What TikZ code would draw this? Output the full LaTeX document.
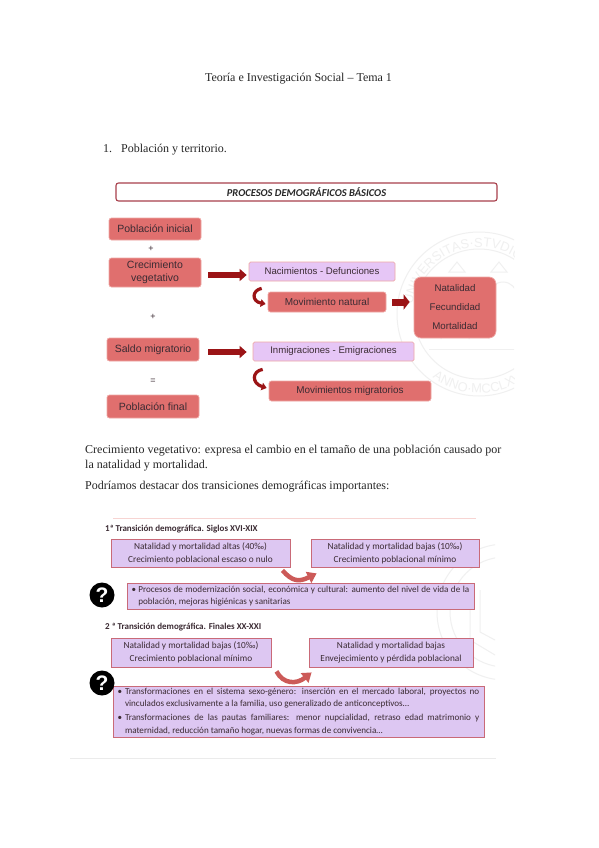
\documentclass[tikz,border=0pt]{standalone}
\usepackage{fontspec}
\setmainfont{Liberation Serif}
\newfontfamily\arialf{Liberation Sans}
\newfontfamily\calf{Carlito}
\usetikzlibrary{arrows.meta,decorations.text,calc}
\definecolor{redfill}{HTML}{E06F6E}
\definecolor{redline}{HTML}{EFA9A6}
\definecolor{purpfill}{HTML}{E6C6F6}
\definecolor{purpfilltwo}{HTML}{DDC7F2}
\definecolor{purpline}{HTML}{C96A78}
\definecolor{titleline}{HTML}{A8404C}
\definecolor{darkarrow}{HTML}{9B1416}
\definecolor{softarrow}{HTML}{CC5A58}
\definecolor{boxtext}{HTML}{3B2B33}
\definecolor{seal}{HTML}{F0F0F0}
\tikzset{
 x=1pt,y=-1pt,
 bodytext/.style={inner sep=0pt,anchor=base west,font=\fontsize{12}{14}\selectfont,text=black!85},
 redbox/.style={draw=redline,line width=0.7pt,fill=redfill,rounded corners=2.5pt,inner sep=0pt,align=center,text=boxtext,font=\arialf\fontsize{10.5}{12.7}\selectfont},
 lilacbox/.style={draw=redline,line width=0.7pt,fill=purpfill,rounded corners=1.5pt,inner sep=0pt,align=center,text=boxtext,font=\arialf\fontsize{9.6}{12}\selectfont},
 signtext/.style={inner sep=0pt,font=\arialf\fontsize{9}{10}\selectfont,text=boxtext},
 headtext/.style={inner sep=0pt,anchor=west,font=\calf\bfseries\fontsize{9}{10}\selectfont,text=boxtext},
 pbox/.style={draw=purpline,line width=0.8pt,fill=purpfilltwo,inner sep=0pt,align=center,text=boxtext,font=\calf\fontsize{9.3}{12.7}\selectfont},
 qmark/.style={circle,fill=black,text=white,minimum size=25pt,inner sep=0pt,font=\arialf\bfseries\fontsize{21}{21}\selectfont},
 bigarrow/.style={draw=darkarrow,line width=5.5pt,-{Triangle[length=7pt,width=12pt]}},
 curlarrow/.style={draw=darkarrow,line width=3.2pt,-{Triangle[length=5pt,width=7.5pt]}},
 uarrow/.style={draw=softarrow,line width=4.5pt,-{Triangle[length=9pt,width=12pt]}},
 sealline/.style={draw=seal,line width=1pt},
}
\begin{document}
\begin{tikzpicture}
\useasboundingbox[fill=white] (0,0) rectangle (599,848);

% watermark seals
\begin{scope}
 \clip (380,225) rectangle (514,402);
 \begin{scope}[shift={(479,314)},y=1pt]
  \draw[sealline] (0,0) circle[radius=82pt];
  \draw[sealline] (0,0) circle[radius=65pt];
  \draw[sealline] (-38,-25) -- (-38,18) arc[start angle=180,end angle=0,radius=14pt] -- (-10,-25);
  \draw[sealline] (10,-25) -- (10,18) arc[start angle=180,end angle=0,radius=14pt] -- (38,-25);
  \draw[sealline] (-30,42) -- (-22,52) -- (-14,42) -- cycle;
  \draw[sealline] (12,42) -- (20,52) -- (28,42) -- cycle;
  \draw[sealline] (-50,-35) -- (50,-35);
  \path[postaction={decorate},decoration={text along path,text align=center,text={|\arialf\fontsize{13}{13}\selectfont\color{seal}|UNIVERSITAS·STVDIORVM}}]
    (180:67pt) arc[start angle=180,end angle=20,radius=67pt];
  \path[postaction={decorate},decoration={text along path,text align=center,text={|\arialf\fontsize{13}{13}\selectfont\color{seal}|ANNO·MCCLXVI}}]
    (215:79pt) arc[start angle=215,end angle=325,radius=79pt];
 \end{scope}
\end{scope}
\begin{scope}
 \clip (430,535) rectangle (495,690);
 \draw[sealline] (505,612) circle[radius=68pt];
 \draw[sealline] (505,612) circle[radius=55pt];
 \draw[sealline] (470,585) -- (470,640) -- (495,655);
 \draw[sealline] (480,590) -- (480,632) -- (495,640);
\end{scope}

% page text
\node[inner sep=0pt,font=\fontsize{12}{14}\selectfont,text=black!85] (pagetitle) at (298.5,78.5) {Teoría e Investigación Social – Tema 1};
\node[bodytext] (secnum) at (103,152) {1.};
\node[bodytext] (sectitle) at (121,152) {Población y territorio.};
\node[bodytext] (para1) at (85,453) {Crecimiento vegetativo: expresa el cambio en el tamaño de una población causado por};
\node[bodytext] (para2) at (85,468) {la natalidad y mortalidad.};
\node[bodytext] (para3) at (85,489) {Podríamos destacar dos transiciones demográficas importantes:};

% first diagram
\node[draw=titleline,line width=1.1pt,rounded corners=2.5pt,fill=white,minimum width=381pt,minimum height=18pt,inner sep=0pt,font=\calf\bfseries\itshape\fontsize{10.5}{12}\selectfont,text=black!85] (maintitle) at (306.5,192) {PROCESOS DEMOGRÁFICOS BÁSICOS};

\node[redbox,minimum width=92pt,minimum height=22pt] (inicial) at (155,229) {Población inicial};
\node[signtext] (plusa) at (151,249) {+};
\node[redbox,minimum width=92pt,minimum height=29pt] (crec) at (155,272.5) {Crecimiento\\vegetativo};
\node[lilacbox,minimum width=146pt,minimum height=19pt] (nac) at (322,271.5) {Nacimientos - Defunciones};
\node[redbox,font=\arialf\fontsize{10}{12}\selectfont,minimum width=118pt,minimum height=20pt] (movnat) at (327,302) {Movimiento natural};
\node[redbox,rounded corners=7pt,font=\arialf\fontsize{9.7}{19}\selectfont,minimum width=82pt,minimum height=61pt] (tasas) at (455,307.5) {Natalidad\\Fecundidad\\Mortalidad};
\node[signtext] (plusb) at (153,317) {+};
\node[redbox,minimum width=92pt,minimum height=23pt] (saldo) at (153,349.5) {Saldo migratorio};
\node[lilacbox,minimum width=161pt,minimum height=19pt] (inmig) at (333.5,351.5) {Inmigraciones - Emigraciones};
\node[redbox,font=\arialf\fontsize{9.9}{12}\selectfont,minimum width=162pt,minimum height=20pt] (movmig) at (350,391) {Movimientos migratorios};
\node[signtext] (equal) at (153,381) {=};
\node[redbox,minimum width=92pt,minimum height=23pt] (final) at (153,406.5) {Población final};

\draw[bigarrow] ([shift={(7,2.5)}]crec.east) -- ([shift={(-2,3.5)}]nac.west);
\draw[bigarrow] ([shift={(9,2.5)}]saldo.east) -- ([shift={(-6,0.5)}]inmig.west);
\draw[bigarrow,line width=7pt,-{Triangle[length=6pt,width=15pt]}] ([shift={(6,0)}]movnat.east) -- ([shift={(-4,0)}]tasas.west|-movnat.east);
\draw[curlarrow] ([shift={(13,7)}]nac.south west) .. controls ([shift={(3,9)}]nac.south west) and ([shift={(3,20)}]nac.south west) .. ([shift={(-2,2)}]movnat.west);
\draw[curlarrow] ([shift={(10,8)}]inmig.south west) .. controls ([shift={(-1,10)}]inmig.south west) and ([shift={(-1,22)}]inmig.south west) .. ([shift={(-2,-3)}]movmig.west);

% second diagram
\draw[draw=redline!50,line width=0.8pt] (113,518) coordinate (ruletopa) -- (476,518) coordinate (ruletopb);
\node[headtext] (heada) at (105,529) {1ª Transición demográfica. Siglos XVI-XIX};
\node[pbox,minimum width=179pt,minimum height=28pt] (boxa) at (200.5,553) {Natalidad y mortalidad altas (40‰)\\Crecimiento poblacional escaso o nulo};
\node[pbox,minimum width=168pt,minimum height=28pt] (boxb) at (395,553) {Natalidad y mortalidad bajas (10‰)\\Crecimiento poblacional mínimo};
\draw[uarrow] ([shift={(-8,3)}]boxa.south east) .. controls ([shift={(2,14)}]boxa.south east) and ([shift={(-12,15)}]boxb.south west) .. ([shift={(6,6)}]boxb.south west);
\node[qmark] (qa) at (102,595) {?};
\node[pbox,font=\calf\fontsize{9.1}{12.4}\selectfont,minimum width=347pt,minimum height=26pt] (boxc) at (300.5,596) {\makebox[6.6pt][l]{\textbullet}\makebox[331pt][s]{Procesos de modernización social, económica y cultural: aumento del nivel de vida de la}\\\makebox[337.6pt][l]{\hspace{6.6pt}población, mejoras higiénicas y sanitarias}};

\node[headtext] (headb) at (105,627) {2 ª Transición demográfica. Finales XX-XXI};
\node[pbox,minimum width=160pt,minimum height=29pt] (boxd) at (191,652.5) {Natalidad y mortalidad bajas (10‰)\\Crecimiento poblacional mínimo};
\node[pbox,minimum width=164pt,minimum height=29pt] (boxe) at (391,652.5) {Natalidad y mortalidad bajas\\Envejecimiento y pérdida poblacional};
\draw[uarrow] ([shift={(5,4)}]boxd.south east) .. controls ([shift={(12,17)}]boxd.south east) and ([shift={(-12,17)}]boxe.south west) .. ([shift={(3,5)}]boxe.south west);
\node[pbox,font=\calf\fontsize{9.1}{12.4}\selectfont,minimum width=371pt,minimum height=51pt] (boxf) at (298.5,711.5) {%
\makebox[7.3pt][l]{\textbullet}\makebox[354.3pt][s]{Transformaciones en el sistema sexo-género: inserción en el mercado laboral, proyectos no}\\
\makebox[361.6pt][l]{\hspace{7.3pt}vinculados exclusivamente a la familia, uso generalizado de anticonceptivos…}\\[1.5pt]
\makebox[7.3pt][l]{\textbullet}\makebox[354.3pt][s]{Transformaciones de las pautas familiares: menor nupcialidad, retraso edad matrimonio y}\\
\makebox[361.6pt][l]{\hspace{7.3pt}maternidad, reducción tamaño hogar, nuevas formas de convivencia…}};
\node[qmark] (qb) at (102,683) {?};
\draw[draw=black!8,line width=0.8pt] (70,758) coordinate (rulebota) -- (496,758) coordinate (rulebotb);
\end{tikzpicture}
\end{document}
